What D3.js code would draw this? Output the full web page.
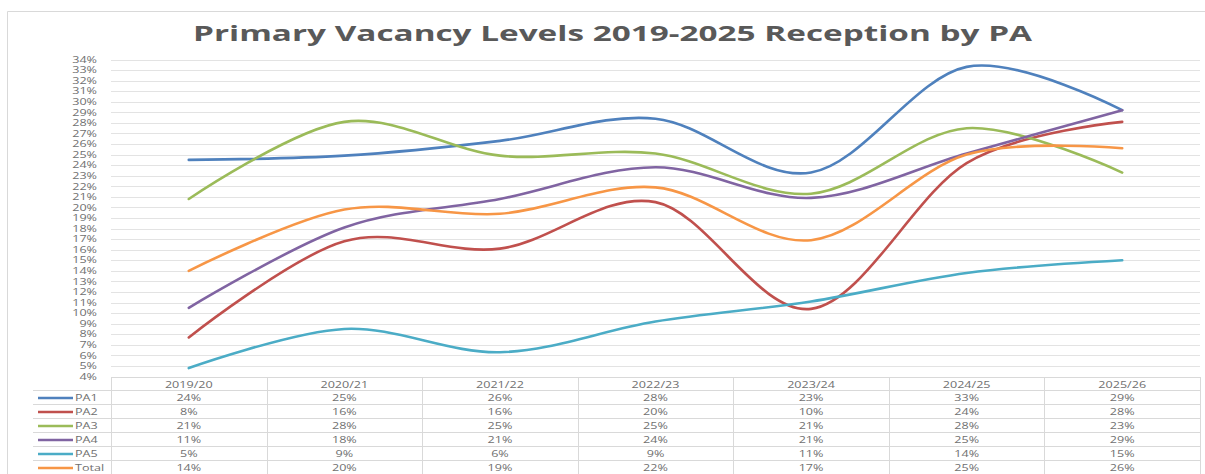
<!DOCTYPE html>
<html lang="en">
<head>
    <meta charset="UTF-8">
    <title>Primary Vacancy Levels 2019-2025 Reception by PA</title>
    <script src="https://d3js.org/d3.v7.min.js"></script>
    <style>
        body {
            margin: 0;
            background: #fff;
            font-family: "Open Sans", Arial, sans-serif;
        }
    </style>
</head>
<body>
    <div id="chart"></div>

    <script>
        // Data (line values, table labels as printed)
        const years = ['2019/20', '2020/21', '2021/22', '2022/23', '2023/24', '2024/25', '2025/26'];
        const seriesNames = ['PA1', 'PA2', 'PA3', 'PA4', 'PA5', 'Total'];
        const pa1 = [24.5, 24.9, 26.3, 28.4, 23.3, 33.3, 29.2];
        const pa2 = [7.7, 16.8, 16.1, 20.5, 10.4, 24.2, 28.1];
        const pa3 = [20.8, 28.1, 24.9, 25.1, 21.3, 27.5, 23.3];
        const pa4 = [10.5, 18.1, 20.8, 23.8, 20.9, 25.1, 29.2];
        const pa5 = [4.8, 8.5, 6.3, 9.2, 11.1, 13.8, 15.0];
        const total = [14.0, 19.8, 19.4, 21.9, 16.9, 25.0, 25.6];
        const tableLabels = [
            ['24%', '25%', '26%', '28%', '23%', '33%', '29%'],
            ['8%', '16%', '16%', '20%', '10%', '24%', '28%'],
            ['21%', '28%', '25%', '25%', '21%', '28%', '23%'],
            ['11%', '18%', '21%', '24%', '21%', '25%', '29%'],
            ['5%', '9%', '6%', '9%', '11%', '14%', '15%'],
            ['14%', '20%', '19%', '22%', '17%', '25%', '26%']
        ];
        const yTicks = d3.range(4, 35, 1);

        const seriesValues = [pa1, pa2, pa3, pa4, pa5, total];
        const colors = ['#4f81bd', '#c0504d', '#9bbb59', '#8064a2', '#4bacc6', '#f79646'];

        const width = 1205, height = 474;
        const plotLeft = 111, plotRight = 1200, plotTop = 59.5, plotBottom = 376.5;
        const rowH = 14, tableTop = 377;
        const textColor = '#6f6f6f';
        const sx = 1.4; // the source picture is stretched sideways

        const svg = d3.select('#chart')
            .append('svg')
            .attr('width', width)
            .attr('height', height);

        // chart frame
        svg.append('path')
            .attr('d', `M7.5,${height}V11.5H${width}`)
            .attr('fill', 'none')
            .attr('stroke', '#d9d9d9');

        // title
        svg.append('text')
            .attr('x', 612.5)
            .attr('y', 41)
            .attr('text-anchor', 'middle')
            .attr('font-size', 21)
            .attr('font-weight', 'bold')
            .attr('fill', '#595959')
            .attr('textLength', 839)
            .attr('lengthAdjust', 'spacingAndGlyphs')
            .text('Primary Vacancy Levels 2019-2025 Reception by PA');

        const x = d3.scaleBand()
            .domain(years)
            .range([plotLeft, plotRight])
            .padding(0);

        const y = d3.scaleLinear()
            .domain([4, 34])
            .range([plotBottom, plotTop]);

        function label(g, px, py, txt, anchor) {
            g.append('text')
                .attr('transform', `translate(${px},${py}) scale(${sx},1)`)
                .attr('text-anchor', anchor)
                .attr('font-size', 9)
                .attr('fill', textColor)
                .text(txt);
        }

        // gridlines + y labels
        const grid = svg.append('g');
        yTicks.forEach(t => {
            grid.append('line')
                .attr('x1', plotLeft).attr('x2', plotRight)
                .attr('y1', Math.round(y(t)) + 0.5).attr('y2', Math.round(y(t)) + 0.5)
                .attr('stroke', '#e3e3e3');
            label(grid, 97, y(t) + 3.2, t + '%', 'end');
        });

        // data table
        const table = svg.append('g');
        const lineColor = '#d9d9d9';
        table.append('line')
            .attr('x1', plotLeft).attr('x2', plotRight)
            .attr('y1', tableTop + 0.5).attr('y2', tableTop + 0.5)
            .attr('stroke', lineColor);
        for (let r = 1; r <= seriesNames.length + 1; r++) {
            table.append('line')
                .attr('x1', 33).attr('x2', plotRight)
                .attr('y1', tableTop + r * rowH - 0.5).attr('y2', tableTop + r * rowH - 0.5)
                .attr('stroke', lineColor);
        }
        years.concat(['end']).forEach((yr, i) => {
            const cx = i < years.length ? x(yr) : plotRight;
            table.append('line')
                .attr('x1', Math.round(cx) + 0.5).attr('x2', Math.round(cx) + 0.5)
                .attr('y1', tableTop).attr('y2', height)
                .attr('stroke', lineColor);
        });
        years.forEach(yr => {
            label(table, x(yr) + x.bandwidth() / 2, tableTop + 10.5, yr, 'middle');
        });
        seriesNames.forEach((name, r) => {
            const cy = tableTop + (r + 1) * rowH + 7;
            table.append('line')
                .attr('x1', 38).attr('x2', 73)
                .attr('y1', cy).attr('y2', cy)
                .attr('stroke', colors[r])
                .attr('stroke-width', 2.5);
            label(table, 75, cy + 3.2, name, 'start');
            years.forEach((yr, i) => {
                label(table, x(yr) + x.bandwidth() / 2, cy + 3.2, tableLabels[r][i], 'middle');
            });
        });

        // lines
        const line = d3.line()
            .x((d, i) => x(years[i]) + x.bandwidth() / 2)
            .y(d => y(d))
            .curve(d3.curveCardinal.tension(0));

        svg.append('g')
            .selectAll('path')
            .data(seriesValues)
            .join('path')
            .attr('fill', 'none')
            .attr('stroke', (d, i) => colors[i])
            .attr('stroke-width', 2.6)
            .attr('stroke-linecap', 'round')
            .attr('d', line);
    </script>
</body>
</html>
